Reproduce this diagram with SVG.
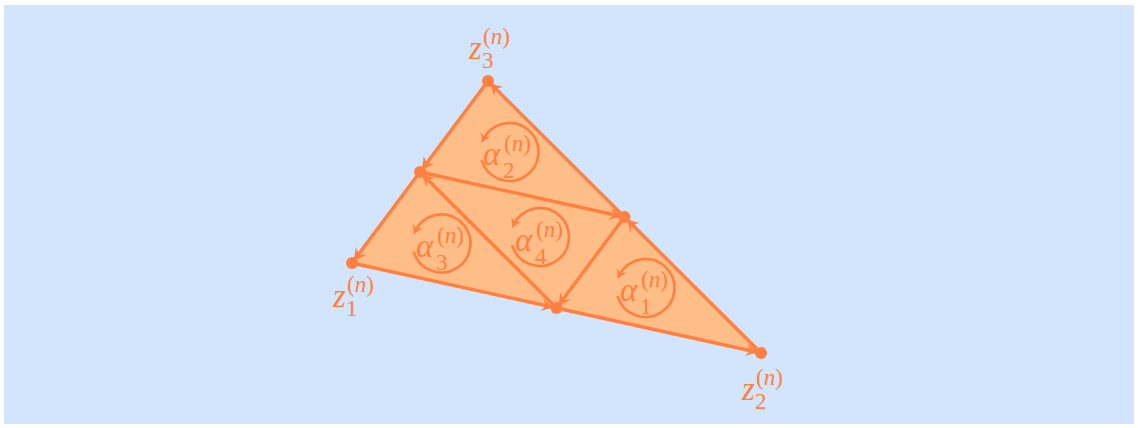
<svg xmlns="http://www.w3.org/2000/svg" width="1138" height="428" viewBox="0 0 1138 428">
<style>
.edge{stroke:#FF8040;stroke-width:3.4;fill:none;marker-end:url(#ah)}
.circ{stroke:#FF8040;stroke-width:2.7;fill:none;marker-end:url(#ahs)}
.dot{fill:#FF8040}
.lbl{font-family:"Liberation Serif","DejaVu Serif",serif;fill:#FF8040}
.main{font-size:33px;font-style:italic}
.up{font-size:23px;font-style:normal}
.it{font-style:italic}
</style>
<defs>
<marker id="ah" markerUnits="userSpaceOnUse" viewBox="-20 -10 20 20" markerWidth="20" markerHeight="20" refX="0" refY="0" orient="auto" overflow="visible">
<path d="M-2,0 Q-8,-2.2 -15,-6.5 L-11,0 L-15,6.5 Q-8,2.2 -2,0 Z" fill="#FF8040"/>
</marker>
<marker id="ahs" markerUnits="userSpaceOnUse" viewBox="-12 -8 20 16" markerWidth="20" markerHeight="16" refX="0" refY="0" orient="auto" overflow="visible">
<path d="M4,0 Q-1,-1.8 -6,-5.5 L-3,0 L-6,5.5 Q-1,1.8 4,0 Z" fill="#FF8040"/>
</marker>
</defs>
<rect x="4" y="5" width="1130" height="419" fill="#D3E5FD"/>
<polygon id="face" points="352,263 761,353 488,81" fill="#FFBE88"/>
<g id="connectors">
<line class="edge" x1="352" y1="263" x2="556.5" y2="308"/>
<line class="edge" x1="556.5" y1="308" x2="761" y2="353"/>
<line class="edge" x1="761" y1="353" x2="624.5" y2="217"/>
<line class="edge" x1="624.5" y1="217" x2="488" y2="81"/>
<line class="edge" x1="488" y1="81" x2="420" y2="172"/>
<line class="edge" x1="420" y1="172" x2="352" y2="263"/>
<line class="edge" x1="420" y1="172" x2="624.5" y2="217"/>
<line class="edge" x1="624.5" y1="217" x2="556.5" y2="308"/>
<line class="edge" x1="556.5" y1="308" x2="420" y2="172"/>
</g>
<g id="z1">
<circle class="dot" cx="352" cy="263" r="6"/>
<text class="lbl" transform="translate(333,307)"><tspan class="main" x="0" y="0">z</tspan><tspan class="up" x="14" y="-15">(<tspan class="it">n</tspan>)</tspan><tspan class="up" x="13" y="8.5">1</tspan></text>
</g>
<g id="z2">
<circle class="dot" cx="761" cy="353" r="6"/>
<text class="lbl" transform="translate(742,400)"><tspan class="main" x="0" y="0">z</tspan><tspan class="up" x="14" y="-15">(<tspan class="it">n</tspan>)</tspan><tspan class="up" x="13" y="8.5">2</tspan></text>
</g>
<g id="z3">
<circle class="dot" cx="488" cy="81" r="6"/>
<text class="lbl" transform="translate(469,59)"><tspan class="main" x="0" y="0">z</tspan><tspan class="up" x="14" y="-15">(<tspan class="it">n</tspan>)</tspan><tspan class="up" x="13" y="8.5">3</tspan></text>
</g>
<g id="m12"><circle class="dot" cx="556.5" cy="308" r="6"/></g>
<g id="m13"><circle class="dot" cx="420" cy="172" r="6"/></g>
<g id="m32"><circle class="dot" cx="624.5" cy="217" r="6"/></g>
<g id="alpha1">
<path class="circ" d="M617.6,296 A29,29 0 1 0 619.2,275.7"/>
<text class="lbl" transform="translate(620,301)"><tspan class="main" x="0" y="0">α</tspan><tspan class="up" x="21" y="-14">(<tspan class="it">n</tspan>)</tspan><tspan class="up" x="20" y="13">1</tspan></text>
</g>
<g id="alpha2">
<path class="circ" d="M481.6,160 A29,29 0 1 0 483.2,139.7"/>
<text class="lbl" transform="translate(483,165)"><tspan class="main" x="0" y="0">α</tspan><tspan class="up" x="21" y="-14">(<tspan class="it">n</tspan>)</tspan><tspan class="up" x="20" y="13">2</tspan></text>
</g>
<g id="alpha3">
<path class="circ" d="M413.6,251.5 A29,29 0 1 0 415.2,231.2"/>
<text class="lbl" transform="translate(416,257)"><tspan class="main" x="0" y="0">α</tspan><tspan class="up" x="21" y="-14">(<tspan class="it">n</tspan>)</tspan><tspan class="up" x="20" y="13">3</tspan></text>
</g>
<g id="alpha4">
<path class="circ" d="M512.1,245 A29,29 0 1 0 513.7,224.7"/>
<text class="lbl" transform="translate(515,251)"><tspan class="main" x="0" y="0">α</tspan><tspan class="up" x="21" y="-14">(<tspan class="it">n</tspan>)</tspan><tspan class="up" x="20" y="13">4</tspan></text>
</g>
</svg>
